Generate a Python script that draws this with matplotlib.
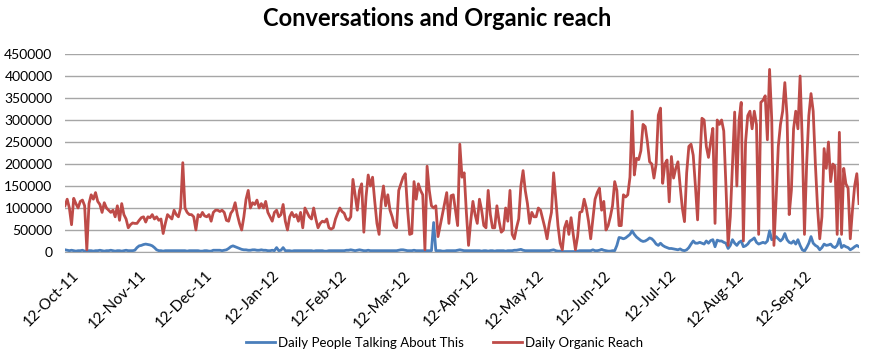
import matplotlib
matplotlib.use("Agg")
import matplotlib.pyplot as plt
import matplotlib.dates as mdates
import matplotlib.transforms as mtransforms
import numpy as np
import pandas as pd

plt.rcParams['font.family'] = ['Lato', 'DejaVu Sans']

# daily values in thousands, one per day starting 12-Oct-2011
reach_k = [
    105, 120, 100, 62, 122, 110, 100, 115, 118, 105,      # d0
    5, 110, 130, 120, 135, 115, 108, 90, 112, 100,        # d10
    95, 90, 95, 80, 105, 72, 110, 85, 75, 55,             # d20
    62, 66, 65, 65, 72, 78, 80, 68, 80, 78,               # d30
    85, 75, 80, 72, 75, 42, 65, 85, 80, 75,               # d40
    95, 85, 80, 100, 203, 100, 90, 85, 85, 80,            # d50
    50, 85, 80, 90, 82, 80, 85, 70, 90, 95,               # d60
    95, 92, 95, 90, 72, 70, 88, 95, 112, 85,              # d70
    65, 50, 80, 120, 140, 100, 112, 108, 118, 100,        # d80
    110, 100, 115, 90, 80, 70, 90, 95, 80, 85,            # d90
    108, 70, 50, 80, 90, 80, 85, 70, 90, 55,              # d100
    100, 90, 80, 75, 100, 75, 55, 65, 70, 68,             # d110
    75, 55, 52, 55, 75, 88, 100, 92, 88, 75,              # d120
    72, 80, 165, 130, 95, 140, 155, 45, 125, 175,         # d130
    150, 170, 115, 65, 40, 115, 150, 105, 130, 95,        # d140
    80, 60, 55, 140, 155, 170, 178, 100, 40, 42,          # d150
    160, 120, 155, 140, 130, 5, 195, 140, 105, 100,       # d160
    105, 35, 60, 85, 110, 135, 65, 128, 130, 95,          # d170
    60, 245, 170, 180, 90, 15, 70, 115, 85, 65,           # d180
    120, 95, 60, 55, 140, 85, 55, 55, 105, 70,            # d190
    45, 50, 100, 70, 140, 40, 30, 55, 75, 150,            # d200
    185, 140, 110, 65, 90, 80, 80, 100, 95, 75,           # d210
    55, 30, 65, 90, 180, 120, 60, 20, 5, 55,              # d220
    70, 40, 78, 40, 5, 35, 90, 92, 120, 100,              # d230
    70, 30, 75, 120, 135, 145, 95, 115, 50, 60,           # d240
    80, 105, 160, 140, 60, 60, 130, 125, 130, 170,        # d250
    320, 175, 213, 210, 230, 290, 285, 250, 205, 200,     # d260
    168, 200, 311, 327, 156, 200, 209, 114, 217, 168,     # d270
    190, 205, 150, 100, 69, 180, 240, 245, 220, 150,      # d280
    73, 200, 304, 300, 240, 215, 250, 281, 65, 300,       # d290
    290, 300, 275, 150, 15, 80, 200, 318, 150, 300,       # d300
    340, 25, 250, 310, 320, 280, 320, 290, 40, 340,       # d310
    345, 355, 255, 415, 300, 15, 120, 240, 290, 320,      # d320
    385, 310, 85, 140, 280, 320, 280, 400, 250, 40,       # d330
    200, 310, 360, 320, 200, 100, 30, 80, 235, 190,       # d340
    250, 160, 200, 195, 40, 272, 40, 190, 155, 145,       # d350
    30, 95, 150, 178, 110,                                # d360
]

talking_k = [
    5, 4, 3, 4, 3, 2, 3, 3, 4, 2,                         # d0
    2, 3, 3, 2, 3, 3, 4, 3, 2, 3,                         # d10
    3, 4, 3, 2, 3, 3, 2, 3, 4, 3,                         # d20
    3, 3, 4, 10, 14, 15, 17, 18, 17, 16,                  # d30
    14, 10, 5, 3, 3, 2, 3, 3, 3, 3,                       # d40
    3, 3, 3, 3, 3, 3, 2, 3, 3, 3,                         # d50
    3, 3, 2, 2, 3, 3, 2, 2, 4, 4,                         # d60
    4, 4, 3, 4, 5, 8, 12, 14, 12, 10,                     # d70
    8, 6, 5, 5, 4, 4, 5, 5, 4, 4,                         # d80
    5, 4, 4, 3, 3, 4, 3, 10, 3, 4,                        # d90
    10, 3, 3, 3, 2, 3, 3, 3, 3, 3,                        # d100
    3, 3, 3, 3, 2, 3, 3, 3, 3, 2,                         # d110
    2, 3, 3, 3, 3, 3, 3, 3, 3, 4,                         # d120
    4, 5, 4, 3, 4, 5, 4, 3, 3, 4,                         # d130
    3, 3, 3, 3, 3, 3, 3, 3, 3, 3,                         # d140
    3, 3, 3, 4, 5, 5, 4, 3, 3, 3,                         # d150
    4, 3, 3, 3, 3, 3, 3, 3, 3, 67,                        # d160
    3, 3, 3, 2, 2, 3, 3, 3, 3, 3,                         # d170
    4, 5, 4, 3, 3, 3, 3, 3, 3, 3,                         # d180
    3, 2, 3, 3, 2, 3, 3, 2, 3, 3,                         # d190
    3, 3, 2, 3, 3, 3, 4, 4, 5, 6,                         # d200
    4, 3, 3, 3, 3, 3, 3, 3, 3, 3,                         # d210
    3, 3, 3, 4, 5, 3, 2, 2, 1, 1,                         # d220
    1, 1, 1, 1, 1, 2, 3, 3, 3, 3,                         # d230
    3, 3, 5, 3, 3, 4, 6, 4, 3, 2,                         # d240
    2, 3, 3, 15, 33, 32, 30, 32, 36, 40,                  # d250
    48, 40, 34, 30, 26, 24, 25, 28, 32, 30,               # d260
    25, 18, 15, 20, 15, 12, 10, 8, 8, 7,                  # d270
    6, 5, 7, 4, 3, 5, 10, 18, 25, 20,                     # d280
    20, 22, 20, 18, 25, 20, 26, 28, 12, 27,               # d290
    25, 25, 22, 20, 8, 15, 28, 20, 15, 22,                # d300
    25, 12, 14, 18, 25, 28, 32, 22, 18, 20,               # d310
    22, 20, 25, 48, 28, 30, 35, 30, 25, 30,               # d320
    42, 28, 22, 20, 25, 18, 28, 15, 5, 2,                 # d330
    10, 20, 35, 20, 15, 12, 5, 10, 18, 15,                # d340
    16, 18, 12, 10, 15, 30, 10, 15, 12, 10,               # d350
    5, 8, 12, 15, 12,                                     # d360
]

dates = pd.date_range('2011-10-12', periods=len(reach_k), freq='D')
reach = np.array(reach_k) * 1000
talking = np.array(talking_k) * 1000

fig = plt.figure(figsize=(8.75, 3.6), dpi=100)
ax = fig.add_axes([65 / 875, 1 - 252 / 360, (859 - 65) / 875, (252 - 54) / 360])

l1, = ax.plot(dates, talking, color='#4A7EBB', lw=2, label='Daily People Talking About This')
l2, = ax.plot(dates, reach, color='#BE4B48', lw=2, label='Daily Organic Reach')

ax.set_ylim(0, 450000)
ax.set_yticks(np.arange(0, 450001, 50000))
ax.set_xlim(dates[0], dates[-1])
ax.xaxis.set_major_locator(mdates.MonthLocator(bymonthday=12))
ax.xaxis.set_major_formatter(mdates.DateFormatter('%d-%b-%y'))

ax.grid(axis='y', color='#A6A6A6', lw=1)
ax.set_axisbelow(True)
for s in ['top', 'right', 'left']:
    ax.spines[s].set_visible(False)
ax.spines['bottom'].set_color('#A6A6A6')

ax.tick_params(axis='y', length=0, pad=9, labelsize=10)
ax.tick_params(axis='x', length=0, pad=6, labelsize=11)
shift = mtransforms.ScaledTranslation(0.07, -0.08, fig.dpi_scale_trans)
for lab in ax.get_xticklabels():
    lab.set_rotation(45)
    lab.set_ha('right')
    lab.set_rotation_mode('anchor')
    lab.set_transform(lab.get_transform() + shift)

fig.text(0.5, 1 - 19 / 360, 'Conversations and Organic reach', ha='center', va='center',
         fontsize=17, fontweight='bold')

fig.legend(handles=[l1, l2], loc='center', bbox_to_anchor=(0.508, 17 / 360), ncol=2,
           frameon=False, fontsize=9.5, handlelength=2.2, handletextpad=0.25,
           columnspacing=2.2)

fig.savefig('out.png', dpi=100)
